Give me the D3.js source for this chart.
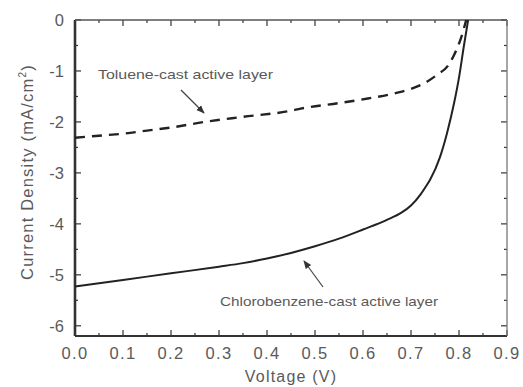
<!DOCTYPE html>
<html>
<head>
<meta charset="utf-8">
<script src="https://cdn.jsdelivr.net/npm/d3@7"></script>
<style>
  body { margin: 0; background: #fff; }
  svg { display: block; }
  text { font-family: "Liberation Sans", Arial, sans-serif; fill: #5a5a5a; }
</style>
</head>
<body>
<svg id="chart" width="523" height="387"></svg>
<script>
// J–V curves of the two solar cells (voltage in V, current density in mA/cm²)
const tolueneV = [0.00, 0.05, 0.10, 0.15, 0.20, 0.27, 0.35, 0.45, 0.47, 0.55, 0.61, 0.67, 0.70, 0.735, 0.755, 0.775, 0.79, 0.805, 0.815];
const tolueneJ = [-2.31, -2.27, -2.23, -2.17, -2.11, -2.00, -1.90, -1.78, -1.74, -1.63, -1.54, -1.43, -1.35, -1.20, -1.07, -0.92, -0.68, -0.33, 0.00];

const chloroV = [0.00, 0.10, 0.20, 0.30, 0.35, 0.40, 0.45, 0.50, 0.55, 0.60, 0.65, 0.68, 0.70, 0.72, 0.73, 0.74, 0.76, 0.775, 0.79, 0.80, 0.81, 0.819];
const chloroJ = [-5.23, -5.10, -4.97, -4.84, -4.77, -4.68, -4.57, -4.44, -4.29, -4.11, -3.92, -3.78, -3.64, -3.42, -3.28, -3.13, -2.70, -2.22, -1.62, -1.13, -0.52, 0.00];

const xTicks = [0.0, 0.1, 0.2, 0.3, 0.4, 0.5, 0.6, 0.7, 0.8, 0.9];
const yTicks = [0, -1, -2, -3, -4, -5, -6];

const svg = d3.select("#chart");
const plotL = 75, plotR = 507, plotT = 20, plotB = 336;

const x = d3.scaleLinear().domain([0, 0.9]).range([plotL, plotR]);
const y = d3.scaleLinear().domain([-6.2, 0]).range([plotB, plotT]);

const axisColor = "#333";
const minorX = d3.range(0, 0.9001, 0.05);
const minorY = d3.range(0, -6.2, -0.5);

// tick marks on all four sides, pointing inward
const g = svg.append("g").attr("stroke", axisColor).attr("stroke-width", 1.2);
minorX.forEach((v, i) => {
  const len = (i % 2 === 0) ? 6 : 3;
  g.append("line").attr("x1", x(v)).attr("x2", x(v)).attr("y1", plotB).attr("y2", plotB - len);
  g.append("line").attr("x1", x(v)).attr("x2", x(v)).attr("y1", plotT).attr("y2", plotT + len);
});
minorY.forEach((v, i) => {
  const len = (i % 2 === 0) ? 6 : 3;
  g.append("line").attr("x1", plotL).attr("x2", plotL + len).attr("y1", y(v)).attr("y2", y(v));
  g.append("line").attr("x1", plotR).attr("x2", plotR - len).attr("y1", y(v)).attr("y2", y(v));
});

// frame
svg.append("line").attr("x1", plotL).attr("x2", plotR).attr("y1", plotB).attr("y2", plotB)
  .attr("stroke", axisColor).attr("stroke-width", 2.2);
svg.append("line").attr("x1", plotL).attr("x2", plotL).attr("y1", plotT).attr("y2", plotB)
  .attr("stroke", axisColor).attr("stroke-width", 2.6);
svg.append("line").attr("x1", plotL).attr("x2", plotR).attr("y1", plotT).attr("y2", plotT)
  .attr("stroke", "#555").attr("stroke-width", 1.6);
svg.append("line").attr("x1", plotR).attr("x2", plotR).attr("y1", plotT).attr("y2", plotB)
  .attr("stroke", "#777").attr("stroke-width", 1.3);

// tick labels
svg.append("g").selectAll("text").data(xTicks).join("text")
  .attr("x", d => x(d)).attr("y", 359)
  .attr("text-anchor", "middle").attr("font-size", 16.5).attr("letter-spacing", 1.3)
  .text(d => d.toFixed(1));

svg.append("g").selectAll("text").data(yTicks).join("text")
  .attr("x", 64).attr("y", d => y(d) + 6)
  .attr("text-anchor", "end").attr("font-size", 16.5)
  .text(d => d === 0 ? "0" : "-" + Math.abs(d));

// axis titles
svg.append("text").attr("x", 291).attr("y", 382)
  .attr("text-anchor", "middle").attr("font-size", 16).attr("letter-spacing", 1.2)
  .text("Voltage (V)");

const yt = svg.append("text")
  .attr("transform", `translate(33,172) rotate(-90)`)
  .attr("text-anchor", "middle").attr("font-size", 16.5).attr("letter-spacing", 1.2);
yt.append("tspan").text("Current Density (mA/cm");
yt.append("tspan").attr("font-size", 10).attr("dy", -7).text("2");
yt.append("tspan").attr("dy", 7).text(")");

// curves
const line = d3.line().x(d => x(d[0])).y(d => y(d[1])).curve(d3.curveMonotoneX);

svg.append("path").datum(d3.zip(chloroV, chloroJ)).attr("d", line)
  .attr("fill", "none").attr("stroke", "#222").attr("stroke-width", 2);

svg.append("path").datum(d3.zip(tolueneV, tolueneJ)).attr("d", line)
  .attr("fill", "none").attr("stroke", "#222").attr("stroke-width", 2.4)
  .attr("stroke-dasharray", "10,7");

// annotations with arrows
svg.append("defs").append("marker")
  .attr("id", "head").attr("viewBox", "0 0 10 10").attr("refX", 9).attr("refY", 5)
  .attr("markerWidth", 7).attr("markerHeight", 7).attr("orient", "auto")
  .append("path").attr("d", "M0,1 L10,5 L0,9 Z").attr("fill", "#333");

svg.append("text").attr("x", 98).attr("y", 79).attr("font-size", 13)
  .attr("textLength", 175).attr("lengthAdjust", "spacingAndGlyphs").text("Toluene-cast active layer");
svg.append("line").attr("x1", 181).attr("y1", 90).attr("x2", 204).attr("y2", 113)
  .attr("stroke", "#444").attr("stroke-width", 1.2).attr("marker-end", "url(#head)");

svg.append("text").attr("x", 220).attr("y", 306).attr("font-size", 13)
  .attr("textLength", 218).attr("lengthAdjust", "spacingAndGlyphs").text("Chlorobenzene-cast active layer");
svg.append("line").attr("x1", 323).attr("y1", 287).attr("x2", 304).attr("y2", 261)
  .attr("stroke", "#444").attr("stroke-width", 1.2).attr("marker-end", "url(#head)");
</script>
</body>
</html>
